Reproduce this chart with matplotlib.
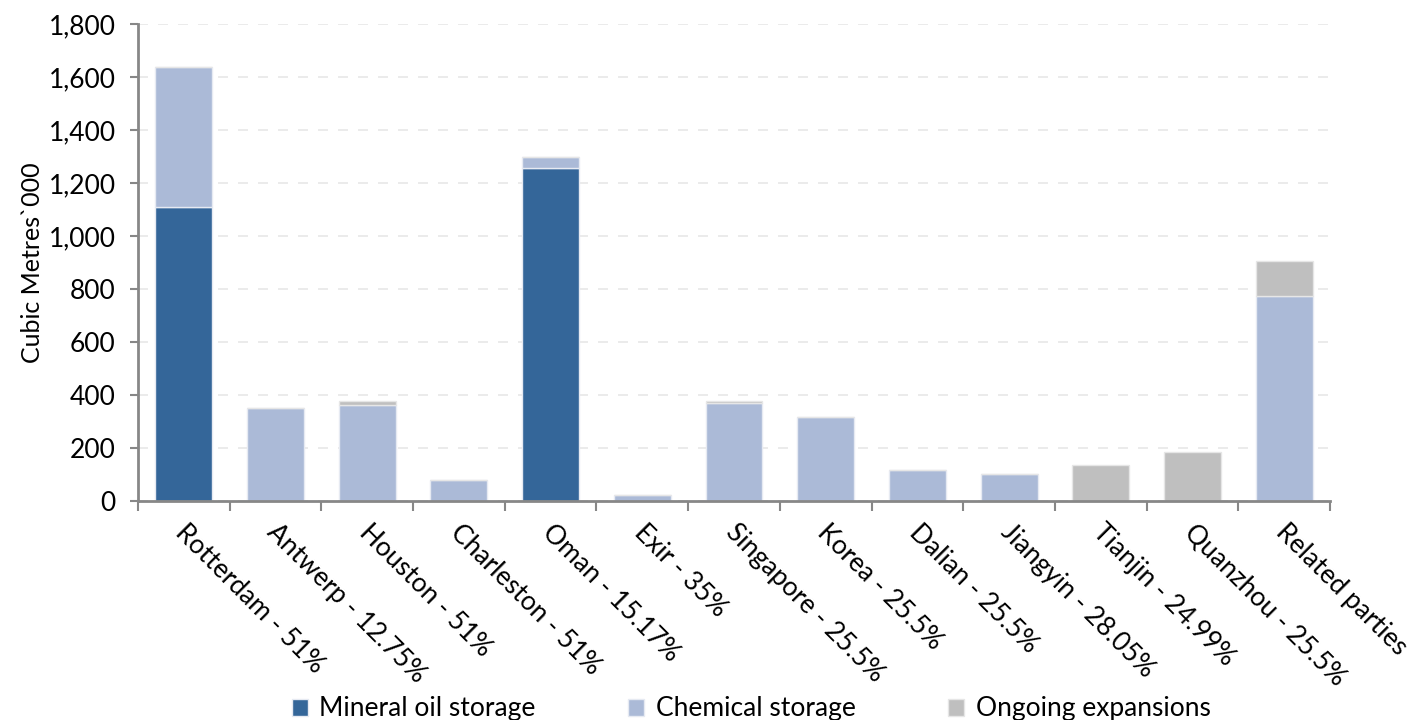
import matplotlib.pyplot as plt
import numpy as np

# Terminal capacity by site, thousand cubic metres
sites = ['Rotterdam - 51%', 'Antwerp - 12.75%', 'Houston - 51%', 'Charleston - 51%',
         'Oman - 15.17%', 'Exir - 35%', 'Singapore - 25.5%', 'Korea - 25.5%',
         'Dalian - 25.5%', 'Jiangyin - 28.05%', 'Tianjin - 24.99%', 'Quanzhou - 25.5%',
         'Related parties']
mineral_oil = [1110, 0, 0, 0, 1257, 0, 0, 0, 0, 0, 0, 0, 0]
chemical = [528, 351, 361, 78, 41, 22, 369, 317, 118, 102, 0, 0, 775]
expansions = [0, 0, 17, 0, 0, 0, 9, 0, 0, 0, 135, 186, 131]

MINERAL_COLOR = '#346699'
CHEMICAL_COLOR = '#abbad7'
EXPANSION_COLOR = '#bfbfbf'
AXIS_COLOR = '#878787'

plt.rcParams['font.family'] = ['Lato', 'DejaVu Sans']
plt.rcParams['font.size'] = 19

fig = plt.figure(figsize=(14.12, 7.2), dpi=100)
ax = fig.add_axes([0.0977, 0.304, 0.8443, 0.6627])

x = np.arange(len(sites))
mineral_oil = np.array(mineral_oil)
chemical = np.array(chemical)
expansions = np.array(expansions)
width = 0.62

ax.bar(x, mineral_oil, width, color=MINERAL_COLOR, edgecolor='#e6eaf2', linewidth=1,
       label='Mineral oil storage')
ax.bar(x, chemical, width, bottom=mineral_oil, color=CHEMICAL_COLOR, edgecolor='#e6eaf2',
       linewidth=1, label='Chemical storage')
ax.bar(x, expansions, width, bottom=mineral_oil + chemical, color=EXPANSION_COLOR,
       edgecolor='#e6e6e6', linewidth=1, label='Ongoing expansions')

ax.set_xlim(-0.5, len(sites) - 0.5)
ax.set_ylim(0, 1800)
ax.set_yticks(np.arange(0, 1801, 200))
ax.set_yticklabels([f'{v:,}' for v in range(0, 1801, 200)])
ax.yaxis.grid(True, linestyle=(0, (6, 6)), color='#e8e8e8', linewidth=1.2)
ax.set_axisbelow(True)

# category boundaries carry the x ticks, labels sit at bar centres
ax.set_xticks(np.arange(-0.5, len(sites)))
ax.set_xticklabels([])
ax.tick_params(axis='x', direction='out', length=7, width=1.5, color=AXIS_COLOR)
ax.tick_params(axis='y', direction='out', length=6, width=1.5, color=AXIS_COLOR, pad=10)
for xi, name in zip(x, sites):
    ax.text(xi + 0.05, -70, name, rotation=-45, rotation_mode='anchor',
            ha='left', va='top', fontsize=19)

for side in ['top', 'right']:
    ax.spines[side].set_visible(False)
for side in ['left', 'bottom']:
    ax.spines[side].set_color(AXIS_COLOR)
    ax.spines[side].set_linewidth(2)

ax.set_ylabel('Cubic Metres`000', fontsize=18, labelpad=3)

fig.legend(loc='lower center', bbox_to_anchor=(0.532, -0.035), ncol=3, frameon=False,
           handlelength=0.6, handleheight=0.6, handletextpad=0.45, columnspacing=3.5,
           fontsize=19)

plt.savefig('out.png', dpi=100)
